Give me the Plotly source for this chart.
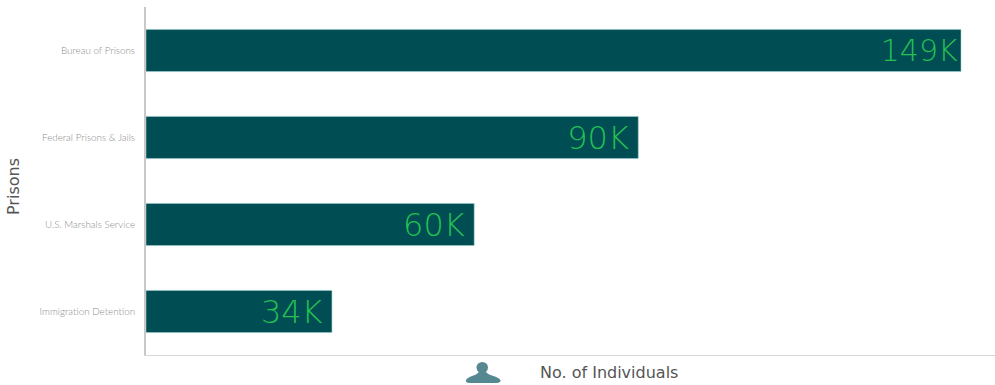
import plotly.graph_objects as go

categories = ["Bureau of Prisons", "Federal Prisons & Jails", "U.S. Marshals Service", "Immigration Detention"]
individuals_k = [149, 90, 60, 34]
value_labels = ["149K", "90K\u2009", "60K\u2009", "34K\u2009"]
label_sizes = [30, 32, 32, 32]

WIDTH, HEIGHT = 995, 385
LEFT, RIGHT, TOP, BOTTOM = 146, 0, 7, 30
PLOT_W = WIDTH - LEFT - RIGHT
PLOT_H = HEIGHT - TOP - BOTTOM
WIDE_FONT = "DejaVu Sans, Inter, sans-serif"


def px(x):
    return (x - LEFT) / PLOT_W


def py(y):
    return (HEIGHT - BOTTOM - y) / PLOT_H


fig = go.Figure(
    go.Bar(
        x=individuals_k,
        y=categories,
        orientation="h",
        width=0.485,
        marker=dict(color="#004d53", line=dict(color="#9fd0d0", width=0.6)),
        text=value_labels,
        textposition="inside",
        insidetextanchor="end",
        textangle=0,
        constraintext="none",
        cliponaxis=False,
        textfont=dict(family=WIDE_FONT, size=label_sizes, color="#24c052", weight=200),
        hoverinfo="skip",
    )
)

# Small person pictogram beside the horizontal axis title
person_icon = [
    dict(type="circle", x0=px(476.5), x1=px(488), y0=py(373), y1=py(362)),
    dict(
        type="path",
        path=(
            f"M {px(466)} {py(380)} "
            f"C {px(468)} {py(376)} {px(476)} {py(376)} {px(479)} {py(372)} "
            f"L {px(486)} {py(372)} "
            f"C {px(489)} {py(376)} {px(498)} {py(376)} {px(500.5)} {py(380)} "
            f"Q {px(501)} {py(383)} {px(496)} {py(383)} "
            f"L {px(470)} {py(383)} "
            f"Q {px(465)} {py(383)} {px(466)} {py(380)} Z"
        ),
    ),
]
for icon_part in person_icon:
    fig.add_shape(
        xref="paper", yref="paper", fillcolor="#558890", line=dict(width=0), layer="above", **icon_part
    )

# Axis titles sit off-centre from the plot area
fig.add_annotation(
    text="No. of Individuals",
    xref="paper",
    yref="paper",
    x=px(609),
    y=py(372),
    xanchor="center",
    yanchor="middle",
    showarrow=False,
    font=dict(family=WIDE_FONT, size=16, color="#555555"),
)
fig.add_annotation(
    text="Prisons",
    xref="paper",
    yref="paper",
    x=px(14),
    y=py(187),
    xanchor="center",
    yanchor="middle",
    textangle=-90,
    showarrow=False,
    font=dict(family=WIDE_FONT, size=16, color="#555555"),
)

fig.update_layout(
    width=WIDTH,
    height=HEIGHT,
    margin=dict(l=LEFT, r=RIGHT, t=TOP, b=BOTTOM, pad=0),
    paper_bgcolor="white",
    plot_bgcolor="white",
    showlegend=False,
    xaxis=dict(
        range=[0, PLOT_W / (815 / 149)],
        showticklabels=False,
        ticks="",
        showgrid=False,
        zeroline=False,
        showline=True,
        linecolor="#d8d8d8",
        linewidth=1,
    ),
    yaxis=dict(
        autorange="reversed",
        categoryorder="array",
        categoryarray=categories,
        showgrid=False,
        zeroline=False,
        showline=True,
        linecolor="#c8c8c8",
        linewidth=2,
        ticks="outside",
        ticklen=7,
        tickcolor="rgba(0,0,0,0)",
        tickfont=dict(family="Lato, sans-serif", size=9.8, color="#8c8c8c", weight=300),
        automargin=False,
    ),
)

fig.write_html("out.html", config={"displayModeBar": False})
